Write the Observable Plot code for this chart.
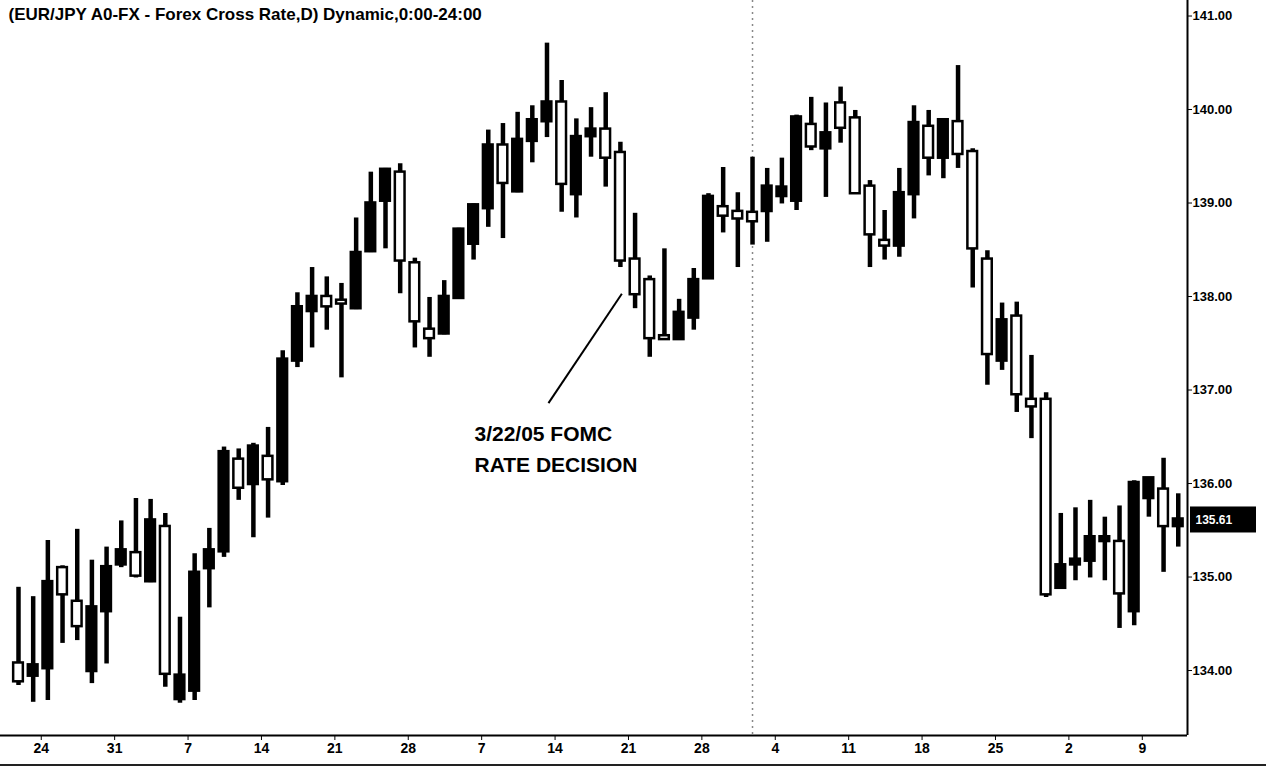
<!DOCTYPE html>
<html><head><meta charset="utf-8">
<script src="https://cdn.jsdelivr.net/npm/d3@7"></script>
<script src="https://cdn.jsdelivr.net/npm/@observablehq/plot@0.6"></script>
<style>
html,body{margin:0;padding:0;background:#fff;}
#wrap{position:relative;width:1266px;height:768px;overflow:hidden;background:#fff;}
#bottomline{position:absolute;left:0;top:764px;width:1266px;height:2px;background:#222;}
</style></head><body>
<div id="wrap"><div id="bottomline"></div></div>
<script>
const title = "(EUR/JPY A0-FX - Forex Cross Rate,D) Dynamic,0:00-24:00";

const opens = [134.07,133.95,134.03,135.09,134.73,134.00,134.64,135.14,135.25,134.96,
135.53,133.70,133.79,135.10,135.28,136.25,136.00,136.28,136.03,137.32,
137.85,137.99,137.95,137.88,138.49,139.03,139.32,138.35,137.64,137.61,
137.99,138.57,138.95,139.61,139.13,139.67,139.88,140.07,139.10,139.72,
139.78,139.53,138.39,138.17,137.57,137.55,137.78,138.20,138.95,138.90,
138.89,138.92,139.08,139.03,139.83,139.59,140.06,139.90,139.17,138.59,
138.55,139.10,139.81,139.49,139.86,139.54,138.39,137.32,137.78,136.89,
136.89,134.89,135.14,135.18,135.39,135.37,134.64,135.85,135.93,135.55];

const highs = [134.89,134.79,135.39,135.12,135.51,135.18,135.32,135.60,135.84,135.83,
135.68,134.57,135.25,135.52,136.39,136.37,136.43,136.60,137.42,138.04,
138.31,138.21,138.14,138.84,139.33,139.37,139.42,138.41,137.99,138.17,
138.73,138.99,139.78,139.85,139.97,140.04,140.71,140.31,139.90,140.02,
140.18,139.65,138.89,138.22,138.51,137.97,138.30,139.10,139.38,139.11,
139.49,139.37,139.48,139.94,140.13,140.07,140.24,139.99,139.24,138.92,
139.37,140.04,139.99,139.90,140.47,139.58,138.49,137.93,137.94,137.37,
136.97,135.68,135.74,135.82,135.64,135.76,136.03,136.06,136.27,135.89];

const lows = [133.84,133.66,133.68,134.29,134.32,133.86,134.07,135.10,134.99,134.94,
133.82,133.65,133.68,134.67,135.21,135.82,135.42,135.63,135.98,137.24,
137.45,137.64,137.13,137.86,138.47,138.51,138.03,137.45,137.35,137.59,
137.97,138.39,138.74,138.62,139.11,139.43,139.70,138.90,138.84,139.49,
139.17,138.31,137.87,137.35,137.53,137.53,137.64,138.19,138.68,138.31,
138.55,138.58,138.99,138.92,139.56,139.06,139.64,139.10,138.31,138.39,
138.42,138.83,139.29,139.26,139.37,138.09,137.05,137.21,136.76,136.48,
134.78,134.87,134.96,134.99,134.96,134.45,134.48,135.64,135.05,135.32];

const closes = [133.89,134.05,134.94,134.82,134.48,134.67,135.10,135.28,135.02,135.60,
133.97,133.94,135.04,135.28,136.33,135.96,136.39,136.05,137.32,137.88,
137.99,137.90,137.93,138.46,138.99,139.35,138.39,137.74,137.56,137.99,
138.71,138.97,139.61,139.22,139.67,139.88,140.07,139.21,139.70,139.78,
139.49,138.39,138.03,137.56,137.55,137.82,138.17,139.06,138.87,138.84,
138.81,139.17,139.16,139.91,139.61,139.74,139.81,139.11,138.67,138.55,
139.10,139.85,139.49,139.88,139.53,138.52,137.39,137.74,136.96,136.83,
134.82,135.12,135.18,135.42,135.42,134.83,136.00,136.05,135.55,135.61];

// Monday bars (bar index) and their day-of-month labels
const mondayBars = [2,7,12,17,22,27,32,37,42,47,52,57,62,67,72,77];
const tickLabels = ["24","31","7","14","21","28","7","14","21","28","4","11","18","25","2","9"];
const priceTicks = [134,135,136,137,138,139,140,141];
const dividers = [50];

const annotText = [
  {i: 31.06, p: 136.45, text: "3/22/05 FOMC", len: 174},
  {i: 31.06, p: 136.12, text: "RATE DECISION", len: 212}
];
const annotLine = [{i1: 36.1, p1: 136.86, i2: 41.1, p2: 138.03}];

const xDomain = [-1.226, 79.63];
const yDomain = [133.305, 141.166];

const bars = opens.map((o, i) => ({i, open: o, high: highs[i], low: lows[i], close: closes[i]}));
const up = bars.filter(d => d.close >= d.open);
const down = bars.filter(d => d.close < d.open);
const last = bars[bars.length - 1];
const tickPos = mondayBars.map(b => b - 0.45);
const tickMap = new Map(tickPos.map((t, k) => [t, tickLabels[k]]));
const half = 0.33;

const chart = Plot.plot({
  width: 1266, height: 768,
  marginTop: 0, marginLeft: 0, marginRight: 79, marginBottom: 33,
  style: {fontFamily: "'Liberation Sans', Arial, sans-serif", fontWeight: "bold", fontSize: "13px", color: "#000", background: "#fff", overflow: "visible"},
  x: {domain: xDomain, ticks: tickPos, tickFormat: d => tickMap.get(d), tickSize: 5, tickPadding: 3, label: null},
  y: {domain: yDomain, axis: "right", ticks: priceTicks, tickFormat: d => d.toFixed(2), tickSize: 4, tickPadding: 1, label: null},
  marks: [
    Plot.ruleX(dividers, {stroke: "#888", strokeDasharray: "2,4", strokeWidth: 1.5}),
    Plot.ruleX(bars, {x: "i", y1: "low", y2: "high", stroke: "#000", strokeWidth: 4.5}),
    Plot.rect(up, {x1: d => d.i - half, x2: d => d.i + half, y1: "open", y2: "close", fill: "#000", stroke: "#000", strokeWidth: 2.5, insetTop: -1, insetBottom: -1}),
    Plot.rect(down, {x1: d => d.i - half, x2: d => d.i + half, y1: "open", y2: "close", fill: "#fff", stroke: "#000", strokeWidth: 2.5, insetTop: -1, insetBottom: -1}),
    Plot.ruleY([yDomain[0]], {stroke: "#000", strokeWidth: 2}),
    Plot.ruleX([xDomain[1]], {stroke: "#000", strokeWidth: 2}),
    Plot.link(annotLine, {x1: "i1", y1: "p1", x2: "i2", y2: "p2", stroke: "#000", strokeWidth: 2}),
    Plot.text(annotText, {x: "i", y: "p", text: "text", textAnchor: "start", lineAnchor: "bottom", fontSize: 21, fontWeight: "bold", fill: "#000", ariaLabel: "annot"}),
    Plot.text([title], {frameAnchor: "top-left", text: d => d, dx: 8, dy: 7, lineAnchor: "top", textAnchor: "start", fontSize: 17, fontWeight: "bold", fill: "#000", ariaLabel: "title"}),
    Plot.rect([last], {x1: xDomain[1], x2: xDomain[1], y1: "close", y2: "close", insetLeft: 3, insetRight: -69, insetTop: -13, insetBottom: -13, fill: "#000"}),
    Plot.text([last], {x: xDomain[1], y: "close", text: d => d.close.toFixed(2), dx: 8, textAnchor: "start", fill: "#fff", fontSize: 12, fontWeight: "bold"})
  ]
});

document.getElementById("wrap").prepend(chart);
const svg = d3.select(chart);
svg.selectAll('g[aria-label="title"] text').attr("textLength", 570).attr("lengthAdjust", "spacingAndGlyphs");
svg.selectAll('g[aria-label="annot"] text').each(function(d, k) {
  d3.select(this).attr("textLength", annotText[k].len).attr("lengthAdjust", "spacingAndGlyphs");
});
svg.selectAll('g[aria-label="x-axis tick label"] text, g[aria-label="x-axis"] text').style("font-size", "14px");
</script>
</body></html>
